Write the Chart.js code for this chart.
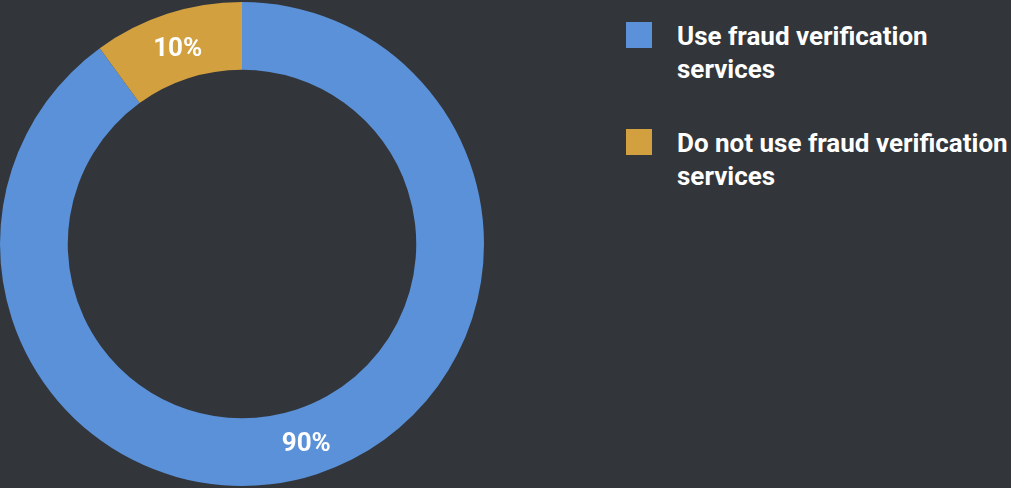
<!DOCTYPE html>
<html>
<head>
<meta charset="utf-8">
<script src="https://cdn.jsdelivr.net/npm/chart.js@4/dist/chart.umd.min.js"></script>
<style>
    html, body {
        margin: 0;
        padding: 0;
        background: #32353a;
        width: 1011px;
        height: 488px;
        overflow: hidden;
        font-family: Roboto, "Noto Sans", sans-serif;
    }
    #chartBox {
        position: absolute;
        left: 0;
        top: 1px;
        width: 484px;
        height: 486px;
    }
    #legend {
        position: absolute;
        left: 626px;
        top: 22px;
        margin: 0;
        padding: 0;
        list-style: none;
    }
    #legend li {
        display: flex;
        align-items: flex-start;
        margin-bottom: 43px;
    }
    #legend .swatch {
        width: 26px;
        height: 26px;
        flex: none;
        margin-right: 25px;
    }
    #legend .text {
        color: #ffffff;
        font-weight: 700;
        font-size: 26px;
        line-height: 33px;
        width: 340px;
        margin-top: -2px;
    }
</style>
</head>
<body>
<div id="chartBox"><canvas id="fraudChart"></canvas></div>
<ul id="legend"></ul>

<script>
// Share of respondents using fraud verification services
const labels = ['Use fraud verification services', 'Do not use fraud verification services'];
const values = [90, 10];
const colors = ['#5a91d8', '#d3a040'];

// Writes each slice's percentage at the middle of its arc
const sliceLabels = {
    id: 'sliceLabels',
    afterDatasetsDraw(chart) {
        const ctx = chart.ctx;
        const meta = chart.getDatasetMeta(0);
        ctx.save();
        ctx.fillStyle = '#ffffff';
        ctx.font = '700 26px Roboto, "Noto Sans", sans-serif';
        ctx.textAlign = 'center';
        ctx.textBaseline = 'middle';
        meta.data.forEach((arc, i) => {
            const pos = arc.tooltipPosition();
            // nudge down a little so the digits sit visually centred
            ctx.fillText(values[i] + '%', pos.x, pos.y + 3);
        });
        ctx.restore();
    }
};

function buildLegend() {
    const list = document.getElementById('legend');
    labels.forEach((label, i) => {
        const item = document.createElement('li');
        const swatch = document.createElement('span');
        swatch.className = 'swatch';
        swatch.style.background = colors[i];
        const text = document.createElement('span');
        text.className = 'text';
        text.textContent = label;
        item.appendChild(swatch);
        item.appendChild(text);
        list.appendChild(item);
    });
}

document.addEventListener('DOMContentLoaded', function() {
    buildLegend();

    const ctx = document.getElementById('fraudChart');
    new Chart(ctx.getContext('2d'), {
        type: 'doughnut',
        data: {
            labels: labels,
            datasets: [{
                data: values,
                backgroundColor: colors,
                borderWidth: 0
            }]
        },
        options: {
            responsive: true,
            maintainAspectRatio: false,
            animation: false,
            cutout: '72%',
            layout: {
                padding: 0
            },
            plugins: {
                legend: {
                    display: false
                },
                tooltip: {
                    enabled: false
                }
            }
        },
        plugins: [sliceLabels]
    });
});
</script>
</body>
</html>
